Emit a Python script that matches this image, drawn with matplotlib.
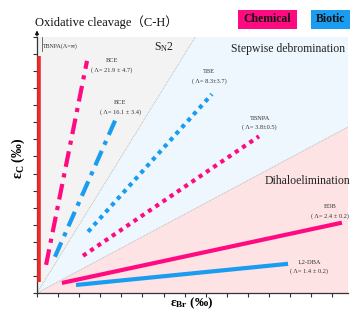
import matplotlib
matplotlib.use("Agg")
import matplotlib.pyplot as plt
from matplotlib.patches import Polygon, Rectangle

plt.rcParams['font.family'] = ['Liberation Serif', 'DejaVu Serif']
plt.rcParams['mathtext.fontset'] = 'custom'
plt.rcParams['mathtext.rm'] = 'Liberation Serif'
plt.rcParams['mathtext.bf'] = 'Liberation Serif:bold'
plt.rcParams['mathtext.it'] = 'Liberation Serif:italic'

# ---- data (eps_Br, eps_C) segment endpoints ----
names = ["BCE", "BCE", "TBE", "TBNPA", "EDB", "1,2-DBA"]
lambdas = ["( Λ= 21.9 ± 4.7)", "( Λ= 16.1 ± 3.4)", "( Λ= 8.3±3.7)",
           "( Λ= 3.8±0.5)", "( Λ= 2.4 ± 0.2)", "( Λ= 1.4 ± 0.2)"]
kinds = ["Chemical", "Biotic", "Biotic", "Chemical", "Chemical", "Biotic"]
x_start = [0.43, 0.85, 2.42, 2.18, 1.18, 1.85]
y_start = [1.65, 2.12, 3.59, 2.18, 0.59, 0.47]
x_end = [2.37, 3.70, 8.29, 10.52, 14.45, 11.90]
y_end = [13.6, 10.1, 11.65, 9.18, 4.12, 1.71]
styles = ["dashdot", "dashdot", "dotted", "dotted", "solid", "solid"]
label_x = [3.55, 3.95, 8.15, 10.55, 13.9, 12.9]
label_y = [13.05, 10.6, 12.4, 9.7, 4.5, 1.3]

tbnpa_inf_x = [0.1, 0.1]
tbnpa_inf_y = [0.65, 13.9]

sn2_slope = 2.0
dihalo_slope = 0.66
xmax, ymax = 14.74, 15.0

colors = {"Chemical": "#ff0a80", "Biotic": "#1a9cf0"}

fig = plt.figure(figsize=(3.52, 3.13), dpi=100)
ax = fig.add_axes([37/352, 20/313, 311/352, 256/313])
ax.set_xlim(0, xmax)
ax.set_ylim(0, ymax)

# regions
x_sn2 = ymax / sn2_slope
ax.add_patch(Polygon([(0, 0), (0, ymax), (x_sn2, ymax)], closed=True,
                     facecolor="#f3f3f3", edgecolor="none", zorder=0))
ax.add_patch(Polygon([(0, 0), (x_sn2, ymax), (xmax, ymax), (xmax, dihalo_slope*xmax)],
                     closed=True, facecolor="#eef7fd", edgecolor="none", zorder=0))
ax.add_patch(Polygon([(0, 0), (xmax, dihalo_slope*xmax), (xmax, 0)], closed=True,
                     facecolor="#fde3e4", edgecolor="none", zorder=0))
ax.plot([0, x_sn2], [0, ymax], color="#b0b0b0", lw=0.6, ls=(0, (1, 1)), zorder=1)
ax.plot([0, xmax], [0, dihalo_slope*xmax], color="#b0b0b0", lw=0.6, ls=(0, (1, 1)), zorder=1)

dash_styles = {"dashdot": (0, (3.8, 1.6, 1, 1.6)), "dotted": (0, (1, 1.1)), "solid": "-"}
for i in range(len(names)):
    ax.plot([x_start[i], x_end[i]], [y_start[i], y_end[i]], color=colors[kinds[i]],
            lw=3.0, ls=dash_styles[styles[i]], solid_capstyle="butt",
            dash_capstyle="butt", zorder=3)
    ax.text(label_x[i], label_y[i] + 0.55, names[i], fontsize=4.6, color="#333333",
            ha="center", va="center", zorder=4)
    ax.text(label_x[i], label_y[i], lambdas[i], fontsize=4.6, color="#333333",
            ha="center", va="center", zorder=4)

ax.plot(tbnpa_inf_x, tbnpa_inf_y, color="#ee2b2b", lw=2.6, solid_capstyle="butt", zorder=3)
ax.plot([0.22, 0.22], [14.2, 15.0], color="#333333", lw=0.5, zorder=4)
ax.text(0.27, 14.45, "TBNPA(Λ=∞)", fontsize=4.3, color="#333333", ha="left", va="center")

# region labels
ax.text(6.0, 14.4, r"S$_{\rm N}$2", fontsize=8.5, color="#222222", ha="center", va="center")
ax.text(11.9, 14.3, "Stepwise debromination", fontsize=8.5, color="#222222",
        ha="center", va="center")
ax.text(12.8, 6.55, "Dihaloelimination", fontsize=8.5, color="#222222",
        ha="center", va="center")

# spines / ticks
for s in ["top", "right"]:
    ax.spines[s].set_visible(False)
for s in ["left", "bottom"]:
    ax.spines[s].set_color("#333333")
    ax.spines[s].set_linewidth(0.9)
ax.set_xticks(range(0, 15))
ax.set_yticks(range(0, 16))
ax.tick_params(axis="both", direction="out", length=3, width=0.8, color="#333333",
               labelleft=False, labelbottom=False)
ax.annotate("", xy=(0, 15.55), xytext=(0, 14.9), xycoords="data",
            arrowprops=dict(arrowstyle="-|>", color="#111111", lw=0.9,
                            mutation_scale=5), annotation_clip=False)

# axis labels
fig.text(18/352, 1 - 158/313, r"$\mathbf{\varepsilon}_{\mathbf{C}}$ (‰)", rotation=90,
         fontsize=10, ha="center", va="center", fontweight="bold")
fig.text(192/352, 1 - 303/313, r"$\mathbf{\varepsilon}_{\mathbf{Br}}$ (‰)",
         fontsize=9.5, ha="center", va="center", fontweight="bold")

# title-ish text
fig.text(106/352, 1 - 22/313, "Oxidative cleavage（C-H）", fontsize=9,
         ha="center", va="center", color="#111111",
         family=["Liberation Serif", "Noto Sans CJK SC"])

# legend boxes
fig.patches.append(Rectangle((238/352, 1 - 29/313), 59/352, 19/313,
                             transform=fig.transFigure, facecolor=colors["Chemical"],
                             edgecolor="none"))
fig.text(267.5/352, 1 - 19.5/313, "Chemical", fontsize=8.5, fontweight="bold",
         ha="center", va="center", color="#111111")
fig.patches.append(Rectangle((311/352, 1 - 29/313), 39/352, 19/313,
                             transform=fig.transFigure, facecolor=colors["Biotic"],
                             edgecolor="none"))
fig.text(330.5/352, 1 - 19.5/313, "Biotic", fontsize=8.5, fontweight="bold",
         ha="center", va="center", color="#111111")

fig.savefig("out.png", dpi=100)
